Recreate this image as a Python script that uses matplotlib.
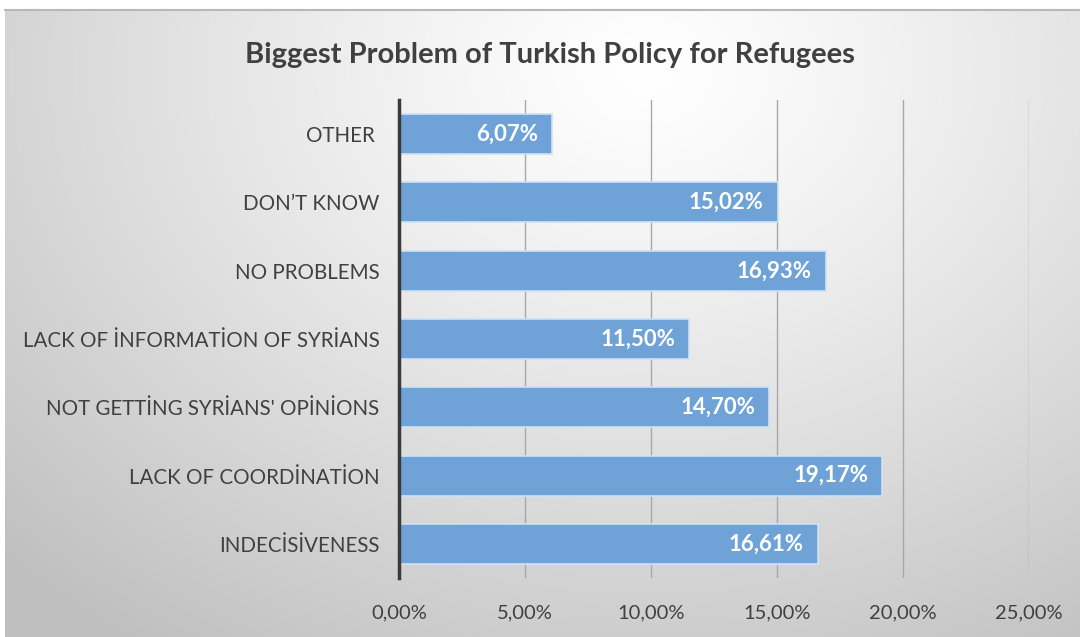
import numpy as np
import matplotlib
matplotlib.use("Agg")
import matplotlib.pyplot as plt
from matplotlib.ticker import FuncFormatter

categories = [
    "INDECİSİVENESS",
    "LACK OF COORDİNATİON",
    "NOT GETTİNG SYRİANS' OPİNİONS",
    "LACK OF İNFORMATİON OF SYRİANS",
    "NO PROBLEMS",
    "DON’T KNOW",
    "OTHER ",
]
values = [16.61, 19.17, 14.70, 11.50, 16.93, 15.02, 6.07]
x_ticks = [0, 5, 10, 15, 20, 25]
title = "Biggest Problem of Turkish Policy for Refugees"

FONT = ["Lato", "DejaVu Sans"]
plt.rcParams["font.family"] = FONT

W, H = 1080, 637
fig = plt.figure(figsize=(W / 100, H / 100), dpi=100)
fig.patch.set_facecolor("white")

# radial gradient backdrop of the chart frame
bg = fig.add_axes([5 / W, 0, 1 - 5 / W, (H - 10) / H])
yy, xx = np.mgrid[0:627, 0:1075]
cx, cy = 640, 60
d = np.sqrt(((xx - cx) / 900.0) ** 2 + ((yy - cy) / 700.0) ** 2)
d = np.clip(d, 0, 1)
shade = 1.0 - 0.25 * d ** 1.2
img = np.dstack([shade, shade, shade])
bg.imshow(img, aspect="auto", extent=[0, 1, 0, 1], origin="upper")
bg.set_xlim(0, 1)
bg.set_ylim(0, 1)
bg.axis("off")
bg.plot([0, 1], [1, 1], color="#b8b8b8", lw=1.5, transform=bg.transAxes, clip_on=False)

left, right = 399 / W, 1029 / W
bottom, top = (H - 578) / H, (H - 100) / H
ax = fig.add_axes([left, bottom, right - left, top - bottom])
ax.patch.set_alpha(0)

ypos = np.arange(len(categories))
ax.barh(ypos, values, height=0.585, color="#6fa3d8", edgecolor="#cfe2f5",
        linewidth=1.2, zorder=3)

for y, v in zip(ypos, values):
    ax.annotate(f"{v:.2f}%".replace(".", ","), xy=(v, y), xytext=(-10, 0),
                textcoords="offset points", ha="right", va="center",
                color="white", fontsize=16, fontweight="bold", zorder=4)

ax.set_xlim(0, 25)
ax.set_ylim(-0.5, len(categories) - 0.5)
ax.set_xticks(x_ticks)
ax.xaxis.set_major_formatter(FuncFormatter(lambda v, p: f"{v:.2f}%".replace(".", ",")))
ax.set_yticks(ypos)
ax.set_yticklabels(categories)
ax.tick_params(axis="both", length=0, colors="#404040")
ax.tick_params(axis="y", pad=14, labelsize=14.8)
ax.tick_params(axis="x", pad=19, labelsize=14.5)
ax.grid(axis="x", color="#a8a8a8", lw=1.0, zorder=0)
ax.grid(axis="y", visible=False)
for s in ["top", "right", "bottom"]:
    ax.spines[s].set_visible(False)
ax.spines["left"].set_color("#3a3a3a")
ax.spines["left"].set_linewidth(2.5)
ax.spines["left"].set_zorder(5)

fig.text(550 / W, 1 - 55 / H, title, ha="center", va="center",
         fontsize=21, fontweight="bold", color="#404040")

fig.savefig("out.png", dpi=100)
